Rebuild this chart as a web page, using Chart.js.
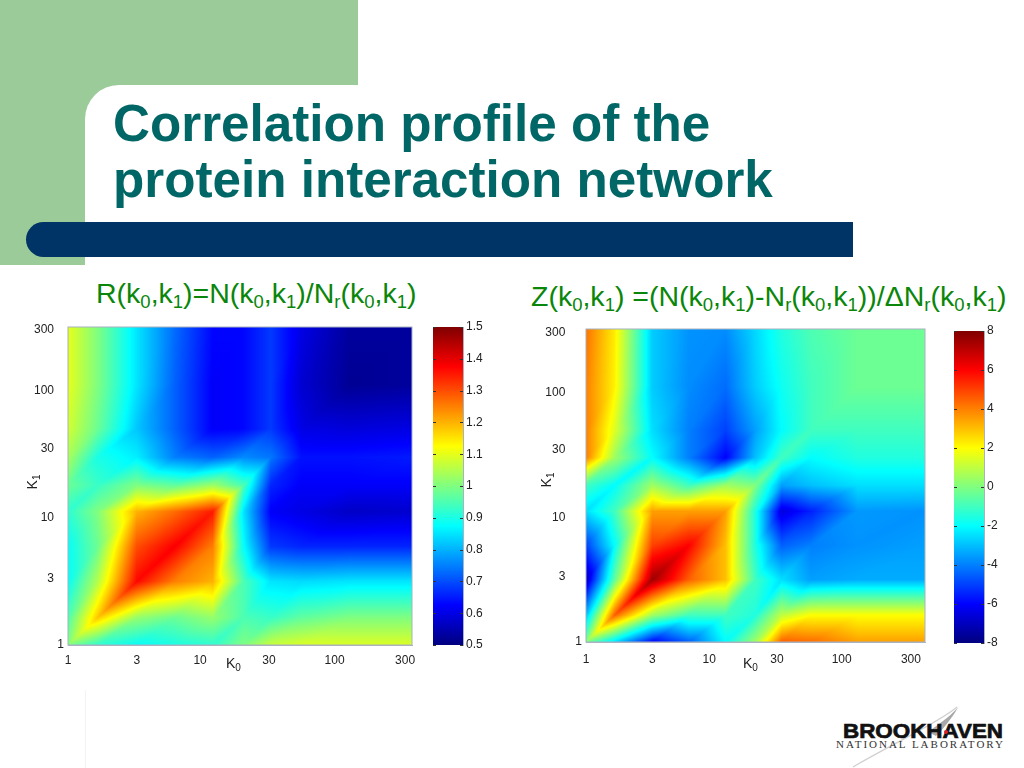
<!DOCTYPE html>
<html>
<head>
<meta charset="utf-8">
<script src="https://cdn.jsdelivr.net/npm/chart.js@4/dist/chart.umd.min.js"></script>
<style>
html, body { margin: 0; padding: 0; background: #fff; }
body { width: 1024px; height: 768px; position: relative; overflow: hidden; font-family: "Liberation Sans", Arial, sans-serif; }
.abs { position: absolute; white-space: nowrap; }
#greenBlock { left: 0; top: 0; width: 358px; height: 265px; background: #9ccb9a; }
#whiteBlock { left: 85px; top: 85px; width: 939px; height: 200px; background: #fff; border-top-left-radius: 34px; }
#navyBar { left: 26px; top: 222px; width: 827px; height: 35px; background: #003366; border-radius: 18px 0 0 18px; }
#footLine { left: 85px; top: 690px; width: 1px; height: 78px; background: #f3f3f3; }
.title { left: 113px; color: #006666; font-weight: bold; font-size: 51.2px; line-height: 56px; }
.formula { color: #0a860a; font-size: 28.5px; line-height: 30px; }
.formula sub { font-size: 18.5px; line-height: 0; vertical-align: -5px; }
.axisName { color: #222; font-size: 14px; line-height: 14px; }
.axisName sub { font-size: 10px; line-height: 0; vertical-align: -3px; }
canvas { position: absolute; }
</style>
</head>
<body>
<div class="abs" id="greenBlock"></div>
<div class="abs" id="whiteBlock"></div>
<div class="abs" id="navyBar"></div>
<div class="abs" id="footLine"></div>
<div class="abs title" style="top:96px">Correlation profile of the</div>
<div class="abs title" style="top:152px">protein interaction network</div>
<div class="abs formula" style="left:96px;top:278px">R(k<sub>0</sub>,k<sub>1</sub>)=N(k<sub>0</sub>,k<sub>1</sub>)/N<sub>r</sub>(k<sub>0</sub>,k<sub>1</sub>)</div>
<div class="abs formula" style="left:531px;top:281px">Z(k<sub>0</sub>,k<sub>1</sub>) =(N(k<sub>0</sub>,k<sub>1</sub>)-N<sub>r</sub>(k<sub>0</sub>,k<sub>1</sub>))/ΔN<sub>r</sub>(k<sub>0</sub>,k<sub>1</sub>)</div>

<canvas id="rHeat" style="left:20px;top:315px" width="400" height="365"></canvas>
<canvas id="rBar" style="left:425px;top:315px" width="70" height="345"></canvas>
<canvas id="zHeat" style="left:530px;top:315px" width="405" height="365"></canvas>
<canvas id="zBar" style="left:945px;top:315px" width="70" height="345"></canvas>

<div class="abs axisName" style="left:226px;top:656px">K<sub>0</sub></div>
<div class="abs axisName" style="left:25px;top:475px;transform:rotate(-90deg)">K<sub>1</sub></div>
<div class="abs axisName" style="left:743px;top:656px">K<sub>0</sub></div>
<div class="abs axisName" style="left:539px;top:473px;transform:rotate(-90deg)">K<sub>1</sub></div>

<svg class="abs" style="left:820px;top:690px" width="204" height="78">
  <path d="M33 77 C 70 55, 120 32, 137 17" stroke="#d0d0d0" stroke-width="1.2" fill="none"/>
  <path d="M108 42 C 122 32, 134 23, 139 16 C 132 28, 124 38, 116 46 Z" fill="#a8a8a8"/>
  <text x="23" y="48" textLength="160" lengthAdjust="spacingAndGlyphs" font-family="Liberation Sans" font-weight="bold" font-size="20" fill="#111" stroke="#111" stroke-width="0.7">BROOKHAVEN</text>
  <circle cx="126" cy="42" r="2" fill="#d8222a"/>
  <text x="16" y="58" textLength="167" font-family="Liberation Serif" font-size="11" fill="#333">NATIONAL LABORATORY</text>
</svg>

<script>
// grid nodes of the two maps (log-binned degrees)
const k0Nodes = [1, 1.65, 3.2, 6.1, 11.6, 19.5, 31, 52, 118, 384];
const k1Nodes = [1, 1.64, 3.16, 5.95, 11.2, 18, 30, 50, 112, 323];

// tick labels and where they actually sit on the axes
const tickLabels = ['1', '3', '10', '30', '100', '300'];
const rXTicks = [1, 3.2, 9.35, 30, 91, 300];
const zXTicks = [1, 3.2, 8.7, 28.6, 89, 300];
const yTicks = [1, 3.35, 10, 35, 100, 300];

// one row per k1 node, bottom row first
const rValues = [
    [1.00, 0.92, 0.88, 0.90, 0.92, 1.00, 1.07, 1.09, 1.09, 1.09],
    [0.95, 1.18, 1.02, 0.98, 1.02, 0.95, 0.93, 0.97, 1.00, 1.00],
    [0.88, 1.05, 1.37, 1.25, 1.20, 0.95, 0.85, 0.84, 0.85, 0.85],
    [0.88, 0.98, 1.30, 1.38, 1.25, 0.88, 0.68, 0.66, 0.66, 0.66],
    [0.92, 1.00, 1.20, 1.27, 1.35, 0.85, 0.62, 0.60, 0.57, 0.58],
    [0.98, 0.93, 1.00, 0.97, 1.03, 0.95, 0.66, 0.62, 0.62, 0.62],
    [1.04, 0.90, 0.86, 0.75, 0.72, 0.76, 0.74, 0.64, 0.64, 0.65],
    [1.08, 0.98, 0.82, 0.72, 0.62, 0.63, 0.68, 0.60, 0.59, 0.60],
    [1.10, 1.00, 0.85, 0.72, 0.62, 0.63, 0.68, 0.58, 0.52, 0.53],
    [1.10, 1.00, 0.85, 0.73, 0.63, 0.63, 0.68, 0.60, 0.53, 0.53]
];
const zValues = [
    [ 0.0, -2.5, -6.0, -4.5, -2.0,  0.5,  4.5,  4.3,  3.5,  3.5],
    [-3.0,  4.5,  0.5, -1.0, -1.0, -1.5,  1.0,  2.0,  2.0,  2.0],
    [-7.0, -0.5,  7.5,  4.5,  3.0, -1.0, -2.5, -3.5, -3.3, -3.3],
    [-5.0, -2.0,  5.0,  6.0,  3.0, -1.5, -4.5, -4.0, -3.7, -3.5],
    [-2.5, -1.0,  3.5,  3.5,  3.5, -1.5, -6.5, -5.5, -3.6, -3.7],
    [-1.0, -2.0,  0.5, -1.0,  0.5,  0.0, -3.5, -3.0, -2.5, -2.5],
    [ 4.0,  0.5, -2.0, -4.0, -6.0, -3.0, -1.0, -2.0, -1.5, -1.5],
    [ 4.0,  1.5, -2.5, -4.0, -5.0, -3.5, -2.0, -1.0, -1.0, -1.0],
    [ 4.0,  2.2, -2.8, -3.8, -4.3, -2.8, -1.8, -1.0, -0.3, -0.3],
    [ 4.2,  2.3, -2.8, -3.7, -3.8, -2.6, -1.5, -0.8, -0.3, -0.3]
];
const rBarTicks = [0.5, 0.6, 0.7, 0.8, 0.9, 1, 1.1, 1.2, 1.3, 1.4, 1.5];
const zBarTicks = [-8, -6, -4, -2, 0, 2, 4, 6, 8];

const tickFont = { family: 'Liberation Sans', size: 12 };
const tickColor = '#222';
const frameColor = '#a8b2c0';

function jet(t) {
    const c = v => Math.max(0, Math.min(1, v)) * 255;
    return [c(1.5 - Math.abs(4 * t - 3)), c(1.5 - Math.abs(4 * t - 2)), c(1.5 - Math.abs(4 * t - 1))];
}

// paints the map from the dataset, cell by cell, using the chart's own scales
const heatPlugin = {
    id: 'heat',
    beforeDatasetsDraw(chart, args, opts) {
        const { ctx, chartArea: a, scales: { x, y } } = chart;
        const xs = k0Nodes.map(k => x.getPixelForValue(k));
        const ys = k1Nodes.map(k => y.getPixelForValue(k));
        const vals = chart.data.datasets[0].data;
        const at = (i, j) => vals[j * k0Nodes.length + i].v;
        const w = Math.round(a.right - a.left), h = Math.round(a.bottom - a.top);
        const img = ctx.createImageData(w, h);
        for (let j = 0; j < ys.length - 1; j++) {
            for (let i = 0; i < xs.length - 1; i++) {
                const p00 = at(i, j), p10 = at(i + 1, j), p01 = at(i, j + 1), p11 = at(i + 1, j + 1);
                const x0 = Math.max(Math.floor(xs[i]), Math.floor(a.left));
                const x1 = Math.min(Math.ceil(xs[i + 1]), Math.floor(a.left) + w);
                const y0 = Math.max(Math.floor(ys[j + 1]), Math.floor(a.top));
                const y1 = Math.min(Math.ceil(ys[j]), Math.floor(a.top) + h);
                for (let py = y0; py < y1; py++) {
                    const v = (ys[j] - py - 0.5) / (ys[j] - ys[j + 1]);
                    for (let px = x0; px < x1; px++) {
                        const u = (px + 0.5 - xs[i]) / (xs[i + 1] - xs[i]);
                        // cells are split along the rising diagonal
                        const val = v <= u
                            ? p00 + u * (p10 - p00) + v * (p11 - p10)
                            : p00 + v * (p01 - p00) + u * (p11 - p01);
                        const rgb = jet((val - opts.min) / (opts.max - opts.min));
                        const o = ((py - Math.floor(a.top)) * w + (px - Math.floor(a.left))) * 4;
                        img.data[o] = rgb[0];
                        img.data[o + 1] = rgb[1];
                        img.data[o + 2] = rgb[2];
                        img.data[o + 3] = 255;
                    }
                }
            }
        }
        ctx.putImageData(img, Math.floor(a.left), Math.floor(a.top));
    },
    afterDraw(chart) {
        const { ctx, chartArea: a } = chart;
        ctx.save();
        ctx.strokeStyle = frameColor;
        ctx.lineWidth = 1;
        ctx.strokeRect(a.left, a.top, a.right - a.left, a.bottom - a.top);
        ctx.restore();
    }
};

function heatChart(id, matrix, min, max, xTicks, xMax, yMax, pad) {
    const points = [];
    matrix.forEach((row, j) => row.forEach((v, i) => points.push({ x: k0Nodes[i], y: k1Nodes[j], v })));
    return new Chart(document.getElementById(id), {
        type: 'scatter',
        data: { datasets: [{ data: points, pointRadius: 0 }] },
        plugins: [heatPlugin],
        options: {
            responsive: false,
            animation: false,
            devicePixelRatio: 1,
            events: [],
            layout: { padding: { top: pad.top, right: pad.right, left: 0, bottom: 0 } },
            plugins: { legend: { display: false }, tooltip: { enabled: false }, heat: { min, max } },
            scales: {
                x: {
                    type: 'logarithmic', min: 1, max: xMax,
                    afterFit: s => { s.height = pad.bottom; s.paddingLeft = 0; s.paddingRight = 0; },
                    afterBuildTicks: s => { s.ticks = xTicks.map(value => ({ value })); },
                    grid: { display: false, drawTicks: false },
                    border: { color: frameColor },
                    ticks: { font: tickFont, color: tickColor, padding: pad.xTick, maxRotation: 0, autoSkip: false,
                        callback: (v, i) => tickLabels[i] }
                },
                y: {
                    type: 'logarithmic', min: 1, max: yMax,
                    afterFit: s => { s.width = pad.left; s.paddingTop = 0; s.paddingBottom = 0; },
                    afterBuildTicks: s => { s.ticks = yTicks.map(value => ({ value })); },
                    grid: { display: false, drawTicks: false },
                    border: { color: frameColor },
                    ticks: { font: tickFont, color: tickColor, padding: 4, autoSkip: false,
                        // the "1" sits closer to the axis than the other labels
                        callback: (v, i) => (i === 0 ? '1' : tickLabels[i] + pad.yGap) }
                }
            }
        }
    });
}

// little inward ticks on the colour bar
const barTicksPlugin = {
    id: 'barTicks',
    afterDatasetsDraw(chart) {
        const { ctx, chartArea: a, scales: { y } } = chart;
        ctx.save();
        ctx.strokeStyle = '#333';
        ctx.lineWidth = 1;
        y.ticks.forEach(t => {
            const p = Math.round(y.getPixelForValue(t.value)) + 0.5;
            ctx.beginPath();
            ctx.moveTo(a.left, p); ctx.lineTo(a.left + 3, p);
            ctx.moveTo(a.right - 3, p); ctx.lineTo(a.right, p);
            ctx.stroke();
        });
        ctx.restore();
    }
};

function barChart(id, ticks, min, max, pad, width) {
    return new Chart(document.getElementById(id), {
        type: 'bar',
        data: {
            labels: [''],
            datasets: [{
                data: [[min, max]],
                barPercentage: 1,
                categoryPercentage: 1,
                backgroundColor: c => {
                    const area = c.chart.chartArea;
                    if (!area) return '#000';
                    const g = c.chart.ctx.createLinearGradient(0, area.bottom, 0, area.top);
                    for (let s = 0; s <= 64; s++) {
                        const rgb = jet(s / 64);
                        g.addColorStop(s / 64, 'rgb(' + rgb.join(',') + ')');
                    }
                    return g;
                }
            }]
        },
        plugins: [barTicksPlugin],
        options: {
            responsive: false,
            animation: false,
            devicePixelRatio: 1,
            events: [],
            layout: { padding: { top: pad.top, left: pad.left, right: 0, bottom: pad.bottom } },
            plugins: { legend: { display: false }, tooltip: { enabled: false } },
            scales: {
                x: { display: false },
                y: {
                    position: 'right', min, max,
                    afterFit: s => { s.width = width; s.paddingTop = 0; s.paddingBottom = 0; },
                    afterBuildTicks: s => { s.ticks = ticks.map(value => ({ value })); },
                    grid: { display: false, drawTicks: false },
                    border: { color: frameColor },
                    ticks: { font: tickFont, color: tickColor, padding: 3, autoSkip: false,
                        callback: v => String(v) }
                }
            }
        }
    });
}

heatChart('rHeat', rValues, 0.5, 1.5, rXTicks, 337, 317, { left: 48, right: 8, top: 12, bottom: 35, xTick: 8, yGap: '   ' });
heatChart('zHeat', zValues, -8, 8, zXTicks, 384, 323, { left: 56, right: 10, top: 14, bottom: 38, xTick: 10, yGap: '     ' });
barChart('rBar', rBarTicks, 0.5, 1.5, { top: 12, left: 8, bottom: 15 }, 32);
barChart('zBar', zBarTicks, -8, 8, { top: 16, left: 9, bottom: 17 }, 31);
</script>
</body>
</html>
